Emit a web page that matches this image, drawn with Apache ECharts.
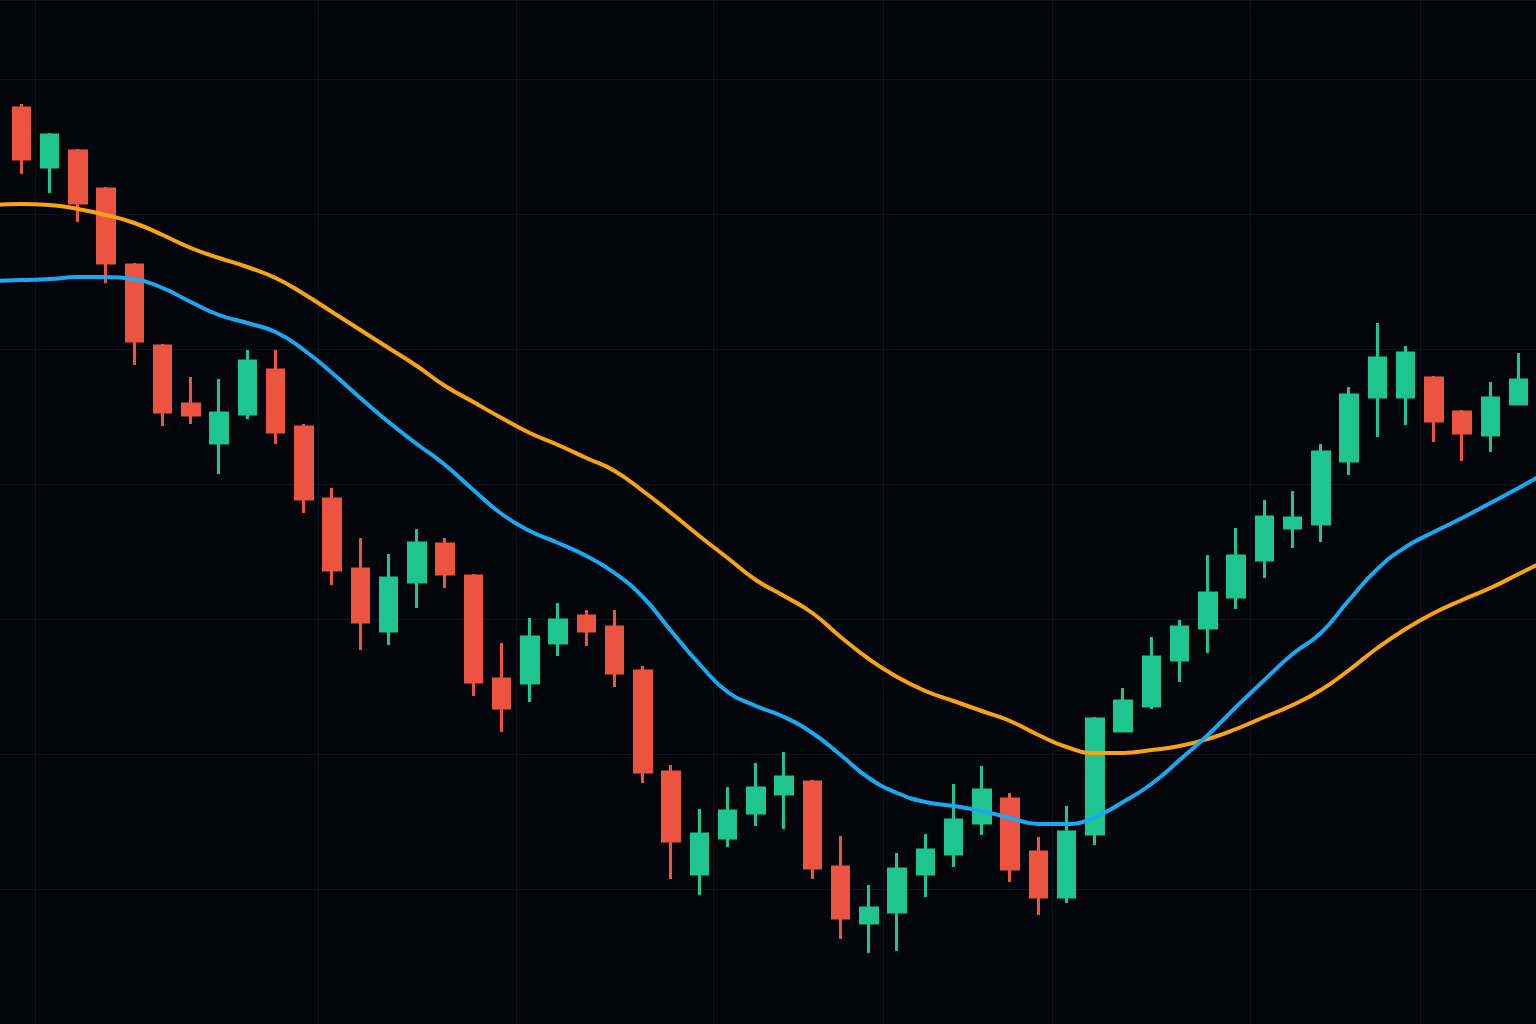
<!DOCTYPE html>
<html>
<head>
<meta charset="utf-8">
<title>K线</title>
<script src="https://cdn.jsdelivr.net/npm/echarts@6/dist/echarts.min.js"></script>
<style>
  html, body { margin: 0; padding: 0; background: #02060a; overflow: hidden; }
  /* 比窗口略宽, 首尾两个槽位落在画面外 */
  #chart { position: absolute; left: -21px; top: 0; width: 1582px; height: 1024px; }
</style>
</head>
<body>
<div id="chart"></div>
<script>
// slot 0 and the last slot sit just outside the visible frame
const days = [];
for (let i = 0; i < 56; i++) days.push('D' + (i + 1));

const opens = ['-', 91.6, 85.7, 87.3, 83.5, 75.9, 67.8, 62.0, 58.1, 61.0, 65.4, 59.7, 52.5, 45.5, 39.3, 44.2, 48.0, 44.8, 34.5, 34.1, 38.1, 40.8, 39.7, 35.3, 25.2, 15.0, 18.6, 21.1, 23.0, 24.2, 15.7, 10.1, 11.2, 15.0, 17.0, 20.1, 22.5, 17.2, 12.7, 19.0, 29.3, 31.8, 36.4, 39.6, 42.7, 46.4, 49.6, 50.0, 56.3, 62.7, 62.7, 64.6, 61.2, 58.9, 62.0, 61.1];
const closes = ['-', 86.5, 88.9, 82.1, 76.1, 68.3, 61.2, 60.9, 61.1, 66.3, 59.2, 52.5, 45.4, 40.2, 44.6, 48.1, 45.0, 34.2, 31.6, 38.7, 40.4, 39.3, 35.1, 25.2, 18.3, 19.0, 21.3, 23.6, 24.7, 15.6, 10.6, 11.6, 15.5, 17.4, 20.4, 23.4, 15.5, 12.7, 19.2, 30.5, 32.3, 36.7, 39.7, 43.1, 46.8, 50.7, 50.6, 57.2, 62.9, 66.6, 67.1, 60.3, 59.1, 62.6, 64.4, 62.7];
const lows = ['-', 85.0, 83.1, 80.2, 74.1, 65.9, 59.8, 60.0, 55.0, 60.5, 58.0, 51.1, 43.9, 37.4, 37.9, 41.6, 43.6, 32.8, 29.2, 32.2, 36.8, 37.8, 33.7, 24.1, 14.5, 12.9, 17.7, 19.8, 19.5, 14.5, 8.5, 7.1, 7.3, 12.7, 15.7, 18.9, 14.2, 10.9, 12.1, 17.9, 29.3, 31.5, 34.2, 37.1, 41.5, 44.6, 47.6, 48.2, 54.9, 58.7, 59.9, 58.2, 56.3, 57.2, 62.0, 60.4];
const highs = ['-', 92.0, 89.1, 87.5, 83.7, 76.1, 68.0, 64.7, 64.5, 67.4, 67.4, 60.0, 53.6, 48.6, 47.0, 49.5, 48.6, 45.0, 38.1, 40.6, 42.1, 41.4, 41.4, 35.8, 25.9, 21.5, 23.7, 26.1, 27.2, 24.4, 18.8, 13.9, 17.1, 19.0, 24.0, 25.8, 23.1, 18.7, 21.8, 30.7, 33.6, 38.7, 40.4, 46.9, 49.6, 52.4, 53.3, 58.0, 63.7, 70.1, 67.8, 64.8, 61.4, 64.2, 67.1, 63.4];

// 慢线 (橙) / 快线 (蓝)
const maSlow = [81.9, 82.0, 81.9, 81.5, 80.9, 80.1, 78.9, 77.6, 76.6, 75.7, 74.6, 73.0, 71.2, 69.4, 67.6, 65.8, 63.8, 62.2, 60.6, 59.1, 57.9, 56.6, 55.3, 53.3, 51.1, 48.8, 46.6, 44.4, 42.8, 41.1, 38.7, 36.5, 34.7, 33.3, 32.3, 31.3, 30.3, 28.9, 27.7, 27.1, 27.1, 27.4, 27.8, 28.5, 29.5, 30.7, 31.9, 33.4, 35.4, 37.6, 39.5, 41.1, 42.4, 43.6, 45.0, 46.4];
const maFast = [74.3, 74.4, 74.5, 74.7, 74.7, 74.5, 73.6, 72.2, 70.9, 70.1, 69.2, 67.4, 65.1, 62.6, 60.2, 58.0, 55.9, 53.4, 51.0, 49.3, 48.1, 46.8, 45.1, 42.7, 39.3, 36.0, 33.2, 31.8, 30.7, 29.1, 26.9, 24.6, 23.1, 22.2, 21.8, 21.3, 20.6, 20.0, 20.0, 20.7, 22.2, 24.0, 26.4, 28.9, 31.7, 34.4, 37.0, 39.1, 42.4, 45.5, 47.7, 49.2, 50.6, 52.1, 53.6, 55.2];

// 竖向网格线所在的刻度
const gridCols = [2, 12, 19, 26, 32, 38, 45, 51];

const kData = days.map((d, i) =>
  opens[i] === '-' ? '-' : [opens[i], closes[i], lows[i], highs[i]]
);

const chart = echarts.init(document.getElementById('chart'));
const option = {
  backgroundColor: '#02060a',
  animation: false,
  grid: {
    left: 0,
    right: 0,
    top: 0,
    bottom: 0,
  },
  xAxis: {
    type: 'category',
    data: days,
    boundaryGap: true,
    axisLine: { show: false },
    axisTick: { show: false },
    axisLabel: { show: false },
    splitLine: {
      show: true,
      interval: (index) => gridCols.indexOf(index) >= 0,
      lineStyle: { color: '#0d1620', width: 1 },
    },
  },
  yAxis: {
    type: 'value',
    min: 0,
    max: 102.4,
    interval: 13.5,
    axisLine: { show: false },
    axisTick: { show: false },
    axisLabel: { show: false },
    splitLine: {
      lineStyle: { color: '#0d1620', width: 1 },
    },
  },
  series: [
    {
      name: 'K',
      type: 'candlestick',
      data: kData,
      barWidth: 17,
      itemStyle: {
        color: '#1fc58f',
        color0: '#ec5340',
        borderColor: '#1fc58f',
        borderColor0: '#ec5340',
        borderWidth: 3,
      },
    },
    {
      name: 'MA slow',
      type: 'line',
      data: maSlow,
      smooth: 0.5,
      showSymbol: false,
      lineStyle: { color: '#f8a214', width: 4 },
      z: 3,
    },
    {
      name: 'MA fast',
      type: 'line',
      data: maFast,
      smooth: 0.5,
      showSymbol: false,
      lineStyle: { color: '#1ba8f0', width: 4 },
      z: 3,
    },
  ],
};
chart.setOption(option);
</script>
</body>
</html>
